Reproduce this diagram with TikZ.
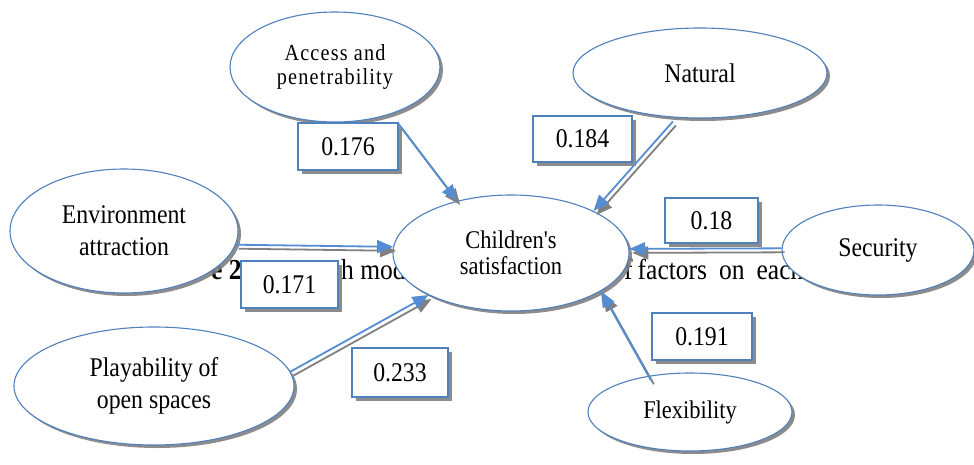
\documentclass[tikz,border=0pt]{standalone}
\usepackage{fontspec}
\setmainfont{Liberation Serif}
\newfontfamily\tallserif[FakeStretch=0.88]{Liberation Serif}
\usetikzlibrary{shapes.geometric,shadows,arrows.meta}

\definecolor{edgeblue}{RGB}{79,129,189}
\definecolor{arrowblue}{RGB}{84,141,212}
\definecolor{shadowgray}{RGB}{128,128,128}

\tikzset{
  factor/.style={ellipse, draw=edgeblue, line width=1.1pt, fill=white,
    inner sep=0pt, align=center, font=\tallserif\fontsize{27}{32}\selectfont,
    drop shadow={shadow xshift=3pt, shadow yshift=-3pt, fill=shadowgray, opacity=0.9}},
  coef/.style={rectangle, draw=edgeblue, line width=1.1pt, fill=white,
    inner sep=0pt, font=\tallserif\fontsize{27}{29}\selectfont,
    drop shadow={shadow xshift=4pt, shadow yshift=-4pt, fill=shadowgray, opacity=0.9}},
  caption/.style={inner sep=0pt, anchor=base west, font=\tallserif\fontsize{29}{31}\selectfont},
  linkline/.style={draw=arrowblue, line width=1.8pt,
    -{Triangle[length=16pt, width=13pt]}},
  linkshadow/.style={draw=shadowgray, line width=1.8pt,
    -{Triangle[length=16pt, width=13pt]}}
}

\begin{document}
\begin{tikzpicture}[x=1pt, y=-1pt]
  \useasboundingbox (0,0) rectangle (974,465);
  \fill[white] (0,0) rectangle (974,465);

  % caption line lying behind the diagram
  \node[caption] (capa) at (211,279) {\bfseries e 2};
  \node[caption] (capb) at (341,279) {h mod};
  \node[caption] (capc) at (624,279) {f\hspace{5pt}factors\hspace{12pt}on\hspace{12pt}each};

  % factors
  \node[factor, minimum width=210pt, minimum height=110pt,
        font=\tallserif\fontsize{23}{24}\selectfont\addfontfeature{LetterSpace=5}] (acc) at (335,67) {Access and\\penetrability};
  \node[factor, minimum width=254pt, minimum height=90pt] (nat) at (700,73) {Natural};
  \node[factor, minimum width=228pt, minimum height=124pt] (env) at (124,231) {Environment\\attraction};
  \node[factor, minimum width=236pt, minimum height=116pt,
        font=\tallserif\fontsize{25.5}{26.5}\selectfont] (chi) at (511,253) {Children's\\satisfaction};
  \node[factor, minimum width=192pt, minimum height=90pt] (sec) at (878,250) {Security};
  \node[factor, minimum width=280pt, minimum height=118pt] (pla) at (154,386) {Playability of\\open spaces};
  \node[factor, minimum width=204pt, minimum height=78pt,
        font=\tallserif\fontsize{25.5}{27}\selectfont] (fle) at (690,412) {Flexibility};

  % path coefficients
  \node[coef, minimum width=100pt, minimum height=47pt] (b176) at (348,146.5) {0.176};
  \node[coef, minimum width=99pt,  minimum height=46pt] (b184) at (582.5,139) {0.184};
  \node[coef, minimum width=93pt,  minimum height=45pt] (b18)  at (711.5,220.5) {0.18};
  \node[coef, minimum width=97pt,  minimum height=47pt] (b171) at (289.5,284.5) {0.171};
  \node[coef, minimum width=96pt,  minimum height=49pt] (b233) at (400,372.5) {0.233};
  \node[coef, minimum width=100pt, minimum height=47pt] (b191) at (702,336.5) {0.191};

  % paths: gray shadow first, blue line on top
  \begin{scope}[transform canvas={xshift=3pt, yshift=-4pt}]
    \foreach \s/\t/\k in {acc.-40/chi.136/12pt, nat.242/chi.27/5pt, sec.179/chi.2/0pt,
                          env.-7.5/chi.177/0pt, pla.6.6/chi.207/0pt, fle.139/chi.-23/-5pt}
      \draw[linkshadow, shorten <=\k] (\s) -- (\t);
  \end{scope}
  \foreach \s/\t/\k in {acc.-40/chi.136/12pt, nat.242/chi.27/5pt, sec.179/chi.2/0pt,
                        env.-7.5/chi.177/0pt, pla.6.6/chi.207/0pt, fle.139/chi.-23/-5pt}
    \draw[linkline, shorten <=\k] (\s) -- (\t);
\end{tikzpicture}
\end{document}
